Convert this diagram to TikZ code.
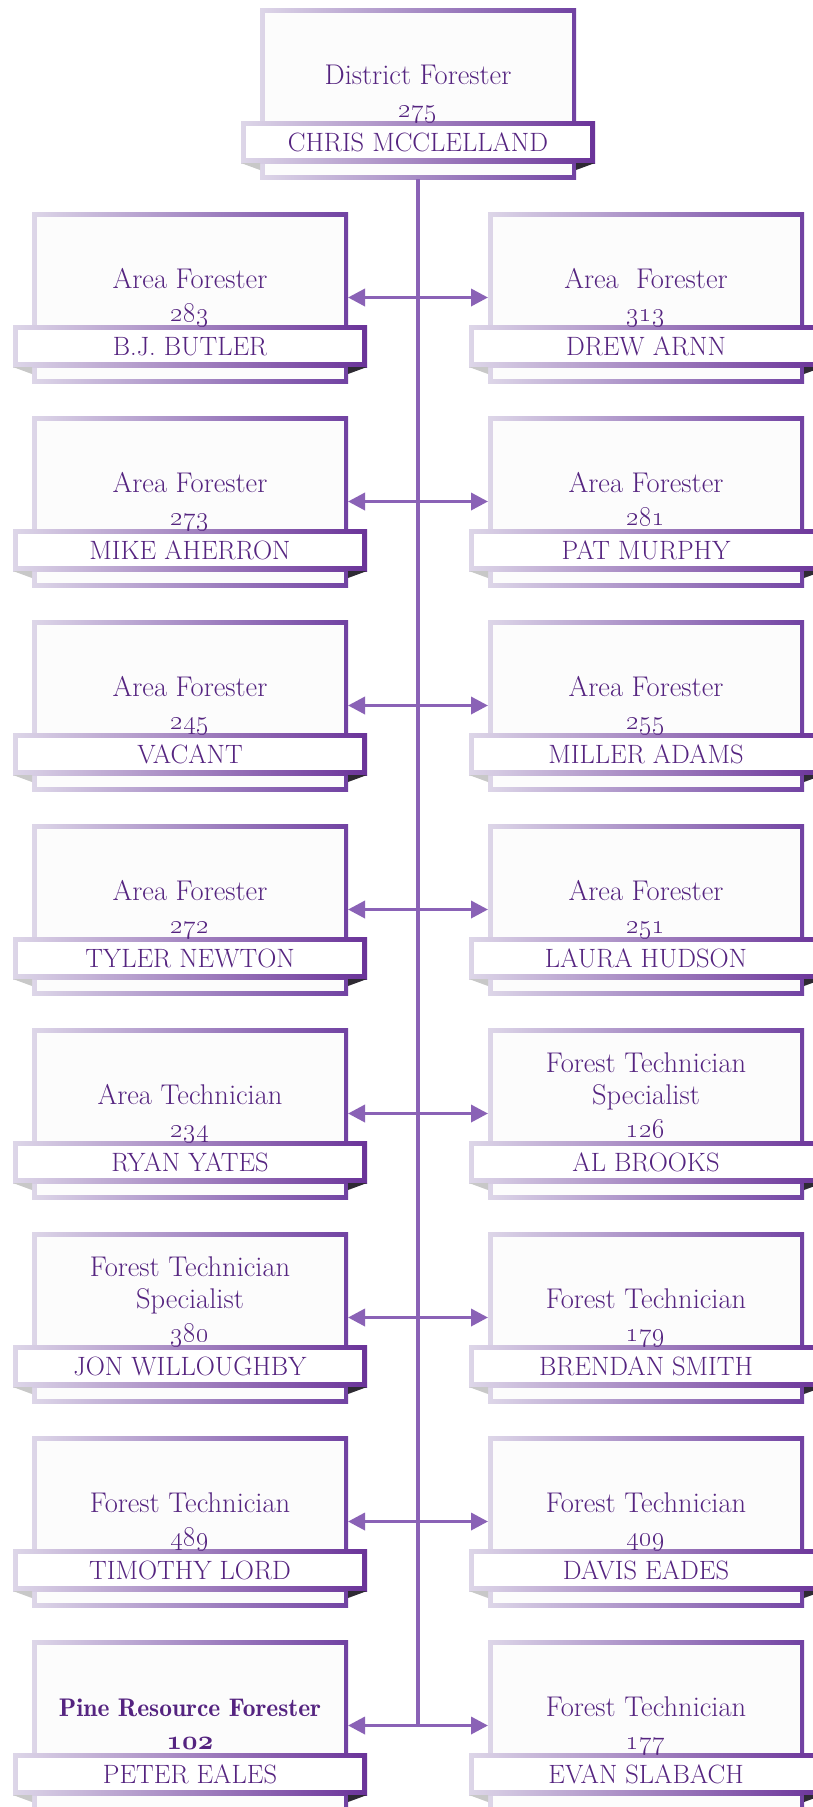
\RequirePackage{fix-cm}
\documentclass[tikz,border=0pt]{standalone}
\usetikzlibrary{arrows.meta}
\definecolor{txt}{HTML}{552480}
\definecolor{frL}{HTML}{DDD6E8}
\definecolor{frR}{HTML}{7142A2}
\definecolor{bandR}{HTML}{6A3399}
\definecolor{ln}{HTML}{8A62B6}
\definecolor{boxbg}{HTML}{FCFCFC}
\definecolor{foldL}{HTML}{C8C8C8}
\definecolor{foldR}{HTML}{2E2A33}
\tikzset{
 boxframe/.style={rectangle, inner sep=0pt, outer sep=0pt, left color=frL, right color=frR, minimum width=316pt, minimum height=171pt},
 boxfill/.style={rectangle, inner sep=0pt, outer sep=0pt, fill=boxbg, minimum width=307pt, minimum height=162pt},
 bandframe/.style={rectangle, inner sep=0pt, outer sep=0pt, left color=frL, right color=bandR, minimum width=354pt, minimum height=42pt},
 bandfill/.style={rectangle, inner sep=0pt, outer sep=0pt, fill=white, minimum width=344pt, minimum height=32pt},
 lbl/.style={text=txt, anchor=base, inner sep=0pt},
 ttl/.style={lbl, font=\fontsize{28.5}{34}\selectfont},
 num/.style={lbl, font=\fontsize{27}{32}\selectfont},
 nm/.style={lbl, font=\fontsize{26.5}{32}\selectfont},
 conn/.style={draw=ln, line width=3.5pt},
 arr/.style={conn, {Triangle[length=17pt,width=17pt]}-{Triangle[length=17pt,width=17pt]}},
}
% #1 extra style, #2 id, #3 centre x, #4 top y, #5 title line 1, #6 title line 2, #7 number, #8 name
\newcommand\orgbox[8][]{%
 \node[boxframe] (#2) at (#3, #4+85.5) {};
 \node[boxfill] (#2-in) at (#2.center) {};
 \node[bandframe] (#2-band) at (#3, #4+134) {};
 \node[bandfill] (#2-bandin) at (#2-band.center) {};
 \fill[foldL] (#2-band.south west) -- (#2.west |- #2-band.south) -- ([yshift=-7pt]#2.west |- #2-band.south) -- cycle;
 \fill[foldR] (#2-band.south east) -- (#2.east |- #2-band.south) -- ([yshift=-7pt]#2.east |- #2-band.south) -- cycle;
 \node[ttl,#1] (#2-t1) at (#3, #4+44) {#5};
 \node[ttl,#1] (#2-t2) at (#3, #4+76) {#6};
 \node[num] (#2-n) at (#3, #4+109) {\oldstylenums{#7}};
 \node[nm] (#2-nm) at (#3, #4+143) {#8};
}
\begin{document}
\begin{tikzpicture}[x=1pt,y=-1pt]
\useasboundingbox (0,0) rectangle (813,1807);
\clip (0,0) rectangle (813,1807);
\fill[white] (0,0) rectangle (813,1807);

\orgbox{T}{418}{8}{}{District Forester}{275}{CHRIS MCCLELLAND}

\orgbox{L1}{190}{212}{}{Area Forester}{283}{B.J. BUTLER}
\orgbox{R1}{646}{212}{}{Area\ \ Forester}{313}{DREW ARNN}
\orgbox{L2}{190}{416}{}{Area Forester}{273}{MIKE AHERRON}
\orgbox{R2}{646}{416}{}{Area Forester}{281}{PAT MURPHY}
\orgbox{L3}{190}{620}{}{Area Forester}{245}{VACANT}
\orgbox{R3}{646}{620}{}{Area Forester}{255}{MILLER ADAMS}
\orgbox{L4}{190}{824}{}{Area Forester}{272}{TYLER NEWTON}
\orgbox{R4}{646}{824}{}{Area Forester}{251}{LAURA HUDSON}
\orgbox{L5}{190}{1028}{}{Area Technician}{234}{RYAN YATES}
\orgbox{R5}{646}{1028}{Forest Technician}{Specialist}{126}{AL BROOKS}
\orgbox{L6}{190}{1232}{Forest Technician}{Specialist}{380}{JON WILLOUGHBY}
\orgbox{R6}{646}{1232}{}{Forest Technician}{179}{BRENDAN SMITH}
\orgbox{L7}{190}{1436}{}{Forest Technician}{489}{TIMOTHY LORD}
\orgbox{R7}{646}{1436}{}{Forest Technician}{409}{DAVIS EADES}
\orgbox[font=\fontsize{25.5}{30}\fontseries{b}\selectfont]{L8}{190}{1640}{}{Pine Resource Forester}{\usefont{OML}{cmm}{b}{it}102}{PETER EALES}
\orgbox{R8}{646}{1640}{}{Forest Technician}{177}{EVAN SLABACH}

\coordinate (vend) at (418,1726.5);
\draw[conn] (T.south) -- (vend);
\foreach \i in {1,...,8}{
  \draw[arr] (L\i.east) -- (R\i.west);
}
\end{tikzpicture}
\end{document}
